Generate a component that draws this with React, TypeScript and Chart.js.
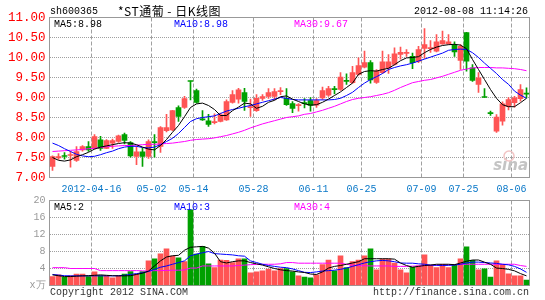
import React, { useEffect, useRef } from 'react';
import { Chart, registerables } from 'chart.js';
Chart.register(...registerables);

// ---------- data ----------
const categories: string[] = [
  '2012-04-05','2012-04-06','2012-04-09','2012-04-10','2012-04-11','2012-04-12','2012-04-13','2012-04-16','2012-04-17','2012-04-18',
  '2012-04-19','2012-04-20','2012-04-23','2012-04-24','2012-04-25','2012-04-26','2012-04-27','2012-05-02','2012-05-03','2012-05-04',
  '2012-05-07','2012-05-08','2012-05-09','2012-05-10','2012-05-14','2012-05-15','2012-05-16','2012-05-17','2012-05-18','2012-05-21',
  '2012-05-22','2012-05-23','2012-05-24','2012-05-25','2012-05-28','2012-05-29','2012-05-30','2012-05-31','2012-06-01','2012-06-04',
  '2012-06-05','2012-06-06','2012-06-07','2012-06-08','2012-06-11','2012-06-12','2012-06-13','2012-06-14','2012-06-15','2012-06-18',
  '2012-06-19','2012-06-20','2012-06-25','2012-06-26','2012-06-27','2012-06-28','2012-06-29','2012-07-02','2012-07-03','2012-07-04',
  '2012-07-05','2012-07-06','2012-07-09','2012-07-10','2012-07-11','2012-07-12','2012-07-13','2012-07-16','2012-07-17','2012-07-25',
  '2012-07-26','2012-07-27','2012-07-30','2012-07-31','2012-08-01','2012-08-02','2012-08-03','2012-08-06','2012-08-07','2012-08-08',
];
const tickDates: string[] = ['2012-04-16','2012-05-02','2012-05-14','2012-05-28','2012-06-11','2012-06-25','2012-07-09','2012-07-25','2012-08-06'];
const tickTexts: string[] = ['2012-04-16','05-02','05-14','05-28','06-11','06-25','07-09','07-25','08-06'];

const opens: number[] = [
  7.275,7.49,7.535,7.55,7.425,7.69,7.775,7.73,7.94,7.73,
  7.86,7.9,8.07,7.875,7.525,7.64,7.525,7.88,7.775,8.17,
  8.19,8.75,8.75,9.41,9.175,8.45,8.417,8.37,8.4,8.44,
  8.88,8.96,9.125,8.745,8.67,8.98,9.025,9.025,9.145,8.98,
  8.85,8.795,8.855,8.92,8.81,8.99,9.06,9.205,9.2,9.415,
  9.37,9.575,9.76,9.875,9.38,9.62,9.74,9.825,10.075,10.105,
  10.03,9.91,10.225,10.22,10.16,10.34,10.34,10.31,9.925,10.62,
  9.74,9.325,9.01,8.605,8.16,8.41,8.78,8.87,8.97,9.095,
];
const highs: number[] = [
  7.54,7.6,7.625,7.65,7.775,7.8,7.9,8.07,8.03,7.95,
  7.96,8.06,8.11,7.9,7.775,7.73,7.94,8.07,8.275,8.58,
  8.68,8.79,9.03,9.41,9.21,8.67,8.58,8.59,8.61,8.94,
  9.175,9.23,9.23,8.96,9.07,9.07,9.225,9.225,9.25,9.225,
  8.9,8.85,8.975,9.0,8.97,9.26,9.28,9.28,9.62,9.59,
  9.78,9.99,10.16,9.925,9.7,10.16,10.07,10.24,10.26,10.2,
  10.11,10.28,10.725,10.425,10.575,10.66,10.575,10.39,10.325,10.63,
  9.825,9.62,9.225,8.66,8.575,8.89,9.0,9.03,9.325,9.24,
];
const lows: number[] = [
  7.175,7.45,7.46,7.26,7.4,7.66,7.65,7.71,7.68,7.72,
  7.73,7.88,7.84,7.51,7.32,7.275,7.48,7.51,7.625,8.14,
  8.17,8.4,8.73,8.94,8.86,8.425,8.275,8.34,8.39,8.43,
  8.86,8.86,8.675,8.525,8.65,8.925,8.98,8.94,9.07,8.8,
  8.62,8.66,8.74,8.66,8.75,8.95,9.03,9.09,9.175,9.325,
  9.35,9.56,9.74,9.36,9.35,9.6,9.6,9.81,9.96,10.03,
  9.72,9.87,9.975,10.13,10.14,10.325,10.325,10.03,9.7,9.66,
  9.4,9.125,9.0,8.55,8.125,8.31,8.69,8.76,8.91,8.99,
];
const closes: number[] = [
  7.525,7.52,7.525,7.57,7.65,7.775,7.69,8.025,7.73,7.925,
  7.925,8.04,7.925,7.54,7.64,7.525,7.9,7.87,8.25,8.25,
  8.67,8.525,8.97,9.4,8.88,8.44,8.325,8.375,8.567,8.9,
  9.07,9.19,8.9,8.75,8.98,9.025,9.125,9.15,9.15,8.82,
  8.725,8.8,8.845,8.8,8.925,9.175,9.22,9.195,9.51,9.405,
  9.62,9.8,9.87,9.44,9.66,9.89,9.89,10.09,10.13,10.11,
  9.87,10.2,10.325,10.225,10.39,10.425,10.39,10.14,10.28,9.91,
  9.425,9.49,9.0,8.595,8.51,8.84,8.95,8.99,9.2,9.085,
];
const ma5: number[] = [
  7.5,7.43,7.41,7.44,7.52,7.57,7.63,7.71,7.76,7.79,
  7.82,7.85,7.87,7.86,7.82,7.76,7.71,7.69,7.8,7.95,
  8.13,8.3,8.52,8.75,8.84,8.86,8.8,8.7,8.55,8.55,
  8.67,8.76,8.86,8.84,8.73,8.78,8.88,8.93,9.02,9.04,
  8.96,8.9,8.84,8.81,8.82,8.88,8.96,9.05,9.14,9.25,
  9.36,9.58,9.65,9.67,9.66,9.7,9.73,9.82,9.92,9.99,
  10.0,10.02,10.12,10.2,10.26,10.3,10.32,10.33,10.31,10.22,
  9.95,9.7,9.45,9.2,8.98,8.82,8.77,8.77,8.87,8.98,
];
const ma10: number[] = [
  7.86,7.8,7.72,7.65,7.58,7.54,7.52,7.53,7.57,7.62,
  7.66,7.72,7.76,7.78,7.78,7.75,7.74,7.76,7.82,7.9,
  7.98,8.1,8.25,8.4,8.47,8.5,8.52,8.54,8.6,8.66,
  8.7,8.73,8.77,8.8,8.84,8.88,8.92,8.96,9.0,8.98,
  8.95,8.94,8.94,8.94,8.94,8.94,8.94,8.95,8.98,9.05,
  9.13,9.25,9.36,9.45,9.52,9.6,9.7,9.75,9.79,9.82,
  9.86,9.91,9.96,10.01,10.06,10.11,10.18,10.2,10.21,10.2,
  10.12,10.0,9.86,9.73,9.6,9.45,9.33,9.16,9.06,8.98,
];
const ma30: number[] = [
  7.65,7.66,7.67,7.68,7.69,7.7,7.72,7.73,7.75,7.77,
  7.78,7.79,7.8,7.8,7.81,7.82,7.83,7.83,7.84,7.85,
  7.86,7.88,7.9,7.93,7.95,7.96,7.97,7.99,8.02,8.05,
  8.09,8.13,8.18,8.24,8.29,8.34,8.38,8.42,8.46,8.5,
  8.52,8.54,8.58,8.6,8.64,8.68,8.73,8.78,8.84,8.9,
  8.95,8.98,9.0,9.02,9.05,9.08,9.12,9.18,9.25,9.31,
  9.37,9.4,9.43,9.45,9.49,9.53,9.58,9.63,9.68,9.71,
  9.74,9.75,9.75,9.75,9.74,9.74,9.73,9.72,9.7,9.67,
];
const volumes: number[] = [
  2.1,2.5,1.9,2.3,2.7,2.7,2.1,3.2,2.35,2.35,
  1.8,2.35,2.7,3.3,2.7,3.3,5.8,6.3,7.45,8.6,
  6.9,6.5,5.6,17.8,7.4,9.2,5.1,4.2,6.0,5.9,
  5.4,6.3,6.3,3.0,3.2,3.45,3.85,3.45,4.0,4.0,
  3.2,2.3,2.0,1.8,2.5,4.9,6.0,3.45,7.0,4.2,
  5.6,6.0,7.0,8.6,3.7,6.2,6.2,5.25,3.7,3.0,
  4.3,4.6,7.2,4.8,4.2,5.0,4.2,5.0,6.3,9.1,
  5.9,3.7,3.9,2.0,5.8,5.0,2.75,2.3,2.3,1.3,
];
const volMa5: number[] = [
  2.5,2.3,2.1,2.1,2.2,2.27,2.3,2.4,2.5,2.4,
  2.3,2.27,2.27,2.3,2.6,2.9,3.4,4.6,5.8,6.7,
  7.0,7.1,8.3,9.0,9.1,9.2,8.8,7.6,5.6,5.3,
  5.6,5.8,5.8,5.4,5.1,4.8,4.4,4.0,3.7,3.5,
  3.4,3.2,3.06,2.7,2.6,3.2,4.1,4.5,4.7,5.0,
  5.3,5.6,6.3,6.3,6.3,6.3,6.3,6.2,5.3,4.7,
  4.3,4.5,4.7,4.8,5.0,5.0,5.0,4.9,5.3,5.7,
  6.0,6.0,5.5,5.0,4.1,4.0,3.8,3.45,2.8,2.27,
];
const volMa10: number[] = [
  2.6,2.45,2.3,2.27,2.27,2.27,2.27,2.27,2.27,2.27,
  2.27,2.3,2.4,2.6,2.8,3.0,3.3,3.8,4.3,4.6,
  5.0,5.4,5.8,7.0,7.4,7.7,8.0,7.5,7.4,7.3,
  7.2,7.0,6.9,5.8,5.4,5.0,4.7,4.5,4.3,4.2,
  3.9,3.5,3.1,3.05,3.2,3.4,3.5,3.6,3.8,4.1,
  4.5,4.9,5.3,5.6,5.8,5.9,5.8,5.6,5.3,5.25,
  5.25,5.1,5.0,4.8,4.75,4.7,4.75,4.8,5.0,5.3,
  5.5,5.5,5.4,5.3,5.2,5.0,4.86,4.5,3.9,3.1,
];
const volMa30: number[] = [
  4.2,4.2,4.2,4.0,4.0,4.0,4.0,4.0,3.5,3.5,
  3.5,3.5,3.5,3.5,3.5,3.45,3.4,3.5,3.5,3.55,
  3.6,3.6,3.65,4.1,4.1,4.6,4.6,4.6,4.6,4.6,
  4.6,4.7,4.8,4.9,4.95,5.0,5.0,5.0,5.1,5.4,
  5.4,5.25,5.25,5.25,5.25,5.25,5.25,5.25,5.25,5.0,
  4.8,4.65,4.65,4.6,4.6,4.6,4.6,4.5,4.5,4.5,
  4.55,4.6,4.7,4.7,4.8,4.8,4.85,4.9,5.0,5.0,
  5.0,5.0,5.0,5.0,5.0,5.0,5.0,5.0,4.7,4.5,
];
const priceMin = 7, priceMax = 11, priceStep = 0.5;
const volMin = 0, volMax = 20, volStep = 4;
const stockCode = 'sh600365';
const stockTitle = '*ST通葡 - 日K线图';
const stamp = '2012-08-08 11:14:26';
const mainMaLabels: string[] = ['MA5:8.98', 'MA10:8.98', 'MA30:9.67'];
const volMaLabels: string[] = ['MA5:2', 'MA10:3', 'MA30:4'];
const volUnit = 'x万';
const copyright = 'Copyright 2012 SINA.COM';
const site = 'http://finance.sina.com.cn';

// ---------- styles ----------
const UP = '#ff5454';
const DOWN = '#00a000';
const GRID = '#a0a0a0';
const FRAME = '#999999';
const MA_COLORS = ['#000000', '#0000ff', '#ff00ff'];
const MONO = "'Liberation Mono', 'DejaVu Sans Mono', monospace";
const CLEAR = 'rgba(0,0,0,0)';
const LEFT = 49.5;
const RIGHT_PAD = 15.5;

export default function App() {
  const mainRef = useRef<HTMLCanvasElement>(null);
  const volRef = useRef<HTMLCanvasElement>(null);

  useEffect(() => {
    const colors = opens.map((o, i) => (closes[i] >= o ? UP : DOWN));
    const labelIdx = new Map<number, string>();
    tickDates.forEach((d, k) => labelIdx.set(categories.indexOf(d), tickTexts[k]));
    const xGridColor = (ctx: any) => (labelIdx.has(ctx.index) ? GRID : CLEAR);

    const frame = {
      id: 'frame',
      beforeDatasetsDraw(chart: any) {
        const { ctx, chartArea: a } = chart;
        ctx.save();
        ctx.strokeStyle = FRAME;
        ctx.lineWidth = 1;
        ctx.strokeRect(a.left, a.top, a.right - a.left, a.bottom - a.top);
        ctx.restore();
      },
    };

    const lineDs = (data: number[], color: string) => ({
      type: 'line' as const,
      data,
      borderColor: color,
      borderWidth: 1,
      pointRadius: 0,
      tension: 0,
      fill: false,
      order: 0,
    });

    const mainText = {
      id: 'mainText',
      afterDraw(chart: any) {
        const ctx = chart.ctx;
        ctx.save();
        ctx.textBaseline = 'middle';
        ctx.fillStyle = '#000';
        ctx.font = `10px ${MONO}`;
        ctx.textAlign = 'left';
        ctx.fillText(stockCode, 50, 11);
        ctx.font = "12px 'Noto Sans CJK SC'";
        (ctx as any).letterSpacing = '0.5px';
        ctx.fillText(stockTitle, 118, 11);
        (ctx as any).letterSpacing = '0px';
        ctx.font = `10px ${MONO}`;
        ctx.textAlign = 'right';
        ctx.fillText(stamp, 528, 11);
        ctx.textAlign = 'left';
        const xs = [54, 174, 294];
        mainMaLabels.forEach((t, k) => {
          ctx.fillStyle = MA_COLORS[k];
          ctx.fillText(t, xs[k], 24);
        });
        // watermark
        ctx.fillStyle = '#c4c4c4';
        ctx.font = "italic bold 15px 'DejaVu Sans'";
        ctx.textAlign = 'right';
        ctx.fillText('sina', 528, 166);
        ctx.strokeStyle = '#f2c4c4';
        ctx.lineWidth = 1.5;
        ctx.beginPath();
        ctx.arc(509, 156, 5, 0, Math.PI * 2);
        ctx.stroke();
        ctx.restore();
      },
    };

    const volText = {
      id: 'volText',
      afterDraw(chart: any) {
        const ctx = chart.ctx;
        ctx.save();
        ctx.textBaseline = 'middle';
        ctx.font = `10px ${MONO}`;
        const xs = [54, 174, 294];
        volMaLabels.forEach((t, k) => {
          ctx.fillStyle = MA_COLORS[k];
          ctx.fillText(t, xs[k], 17);
        });
        ctx.fillStyle = '#333';
        ctx.textAlign = 'left';
        ctx.fillText(copyright, 50, 102.5);
        ctx.textAlign = 'right';
        ctx.fillText(site, 529, 102.5);
        ctx.restore();
      },
    };

    const main = new Chart(mainRef.current!, {
      type: 'bar',
      data: {
        labels: categories,
        datasets: [
          lineDs(ma5, MA_COLORS[0]) as any,
          lineDs(ma10, MA_COLORS[1]) as any,
          lineDs(ma30, MA_COLORS[2]) as any,
          {
            type: 'bar',
            data: opens.map((o, i) => [o, closes[i]]),
            backgroundColor: colors,
            barThickness: 5,
            minBarLength: 1,
            grouped: false,
            borderWidth: 0,
            order: 1,
          },
          {
            type: 'bar',
            data: lows.map((l, i) => [l, highs[i]]),
            backgroundColor: colors,
            barThickness: 1,
            grouped: false,
            borderWidth: 0,
            order: 2,
          },
        ],
      },
      options: {
        animation: false,
        responsive: false,
        events: [],
        layout: { padding: { top: 17.5, right: RIGHT_PAD, left: 0, bottom: 0 } },
        plugins: { legend: { display: false }, tooltip: { enabled: false } },
        scales: {
          x: {
            type: 'category',
            offset: true,
            grid: { offset: true, color: xGridColor, drawTicks: false, lineWidth: 1 },
            border: { display: false, dash: [4, 2] },
            ticks: {
              autoSkip: false,
              maxRotation: 0,
              minRotation: 0,
              padding: 6,
              labelOffset: -3,
              color: '#0a78c8',
              font: { family: MONO, size: 10 },
              callback: (_v: any, i: number) => labelIdx.get(i) ?? '',
            },
            afterFit: (s: any) => { s.height = 22.5; },
          },
          y: {
            min: priceMin,
            max: priceMax,
            grid: {
              color: (ctx: any) => (ctx.tick && (ctx.tick.value <= priceMin || ctx.tick.value >= priceMax) ? CLEAR : GRID),
              drawTicks: false,
            },
            border: { display: false, dash: [1, 1] },
            ticks: {
              stepSize: priceStep,
              padding: 4,
              color: '#ff0000',
              font: { family: MONO, size: 12.5 },
              callback: (v: any) => Number(v).toFixed(2),
            },
            afterFit: (s: any) => { s.width = LEFT; },
          },
        },
      },
      plugins: [frame, mainText],
    } as any);

    const vol = new Chart(volRef.current!, {
      type: 'bar',
      data: {
        labels: categories,
        datasets: [
          lineDs(volMa5, MA_COLORS[0]) as any,
          lineDs(volMa10, MA_COLORS[1]) as any,
          lineDs(volMa30, MA_COLORS[2]) as any,
          {
            type: 'bar',
            data: volumes,
            backgroundColor: colors,
            barThickness: 5,
            borderWidth: 0,
            order: 1,
          },
        ],
      },
      options: {
        animation: false,
        responsive: false,
        events: [],
        layout: { padding: { top: 10.5, right: RIGHT_PAD, left: 0, bottom: 14.5 } },
        plugins: { legend: { display: false }, tooltip: { enabled: false } },
        scales: {
          x: {
            type: 'category',
            offset: true,
            grid: { offset: true, color: xGridColor, drawTicks: false, lineWidth: 1 },
            border: { display: false, dash: [4, 2] },
            ticks: { display: false, autoSkip: false },
            afterFit: (s: any) => { s.height = 0; },
          },
          y: {
            min: volMin,
            max: volMax,
            grid: {
              color: (ctx: any) => (ctx.tick && (ctx.tick.value <= volMin || ctx.tick.value >= volMax) ? CLEAR : GRID),
              drawTicks: false,
            },
            border: { display: false, dash: [1, 1] },
            ticks: {
              stepSize: volStep,
              padding: 4,
              color: '#999999',
              font: { family: MONO, size: 10 },
              callback: (v: any) => (Number(v) === 0 ? volUnit : String(v)),
            },
            afterFit: (s: any) => { s.width = LEFT; },
          },
        },
      },
      plugins: [frame, volText],
    } as any);

    return () => {
      main.destroy();
      vol.destroy();
    };
  }, []);

  return (
    <div style={{ position: 'absolute', left: 0, top: 0, width: 545, height: 300, background: '#fff', overflow: 'hidden' }}>
      <canvas ref={mainRef} width={545} height={200} style={{ position: 'absolute', left: 0, top: 0 }} />
      <canvas ref={volRef} width={545} height={110} style={{ position: 'absolute', left: 0, top: 190 }} />
    </div>
  );
}
